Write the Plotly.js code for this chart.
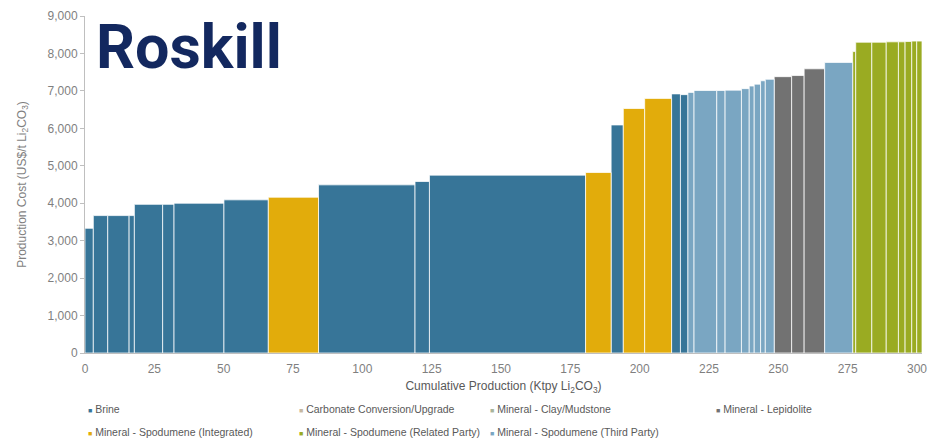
<!DOCTYPE html>
<html>
<head>
<meta charset="utf-8">
<script src="https://cdn.plot.ly/plotly-3.0.1.min.js"></script>
<style>
  html, body { margin: 0; padding: 0; background: #ffffff; }
  #chart { width: 942px; height: 443px; }
</style>
</head>
<body>
<div id="chart"></div>
<script>
// Lithium carbonate cost curve: one bar per operation, width = capacity, height = cost.
const capacity = [3.0, 5.2, 7.7, 1.9, 10.2, 4.1, 18.0, 16.0, 18.1, 34.8, 5.2, 56.3, 9.2, 4.4,
                  7.7, 9.7, 3.2, 2.7, 2.2, 8.2, 3.0, 5.9, 2.8, 1.8, 2.3, 1.7, 3.2, 6.3, 4.5,
                  7.4, 10.1, 1.1, 5.8, 5.2, 4.4, 2.4, 2.4, 1.8, 1.9];
const cost = [3330, 3670, 3670, 3670, 3970, 3970, 4000, 4090, 4160, 4490, 4580, 4750, 4820, 6090,
              6530, 6800, 6920, 6900, 6960, 7010, 7010, 7020, 7060, 7130, 7180, 7270, 7310, 7380, 7410,
              7590, 7760, 8050, 8300, 8300, 8310, 8310, 8320, 8330, 8330];
const supplyType = ['B', 'B', 'B', 'B', 'B', 'B', 'B', 'B', 'SI', 'B', 'B', 'B', 'SI', 'B',
                    'SI', 'SI', 'B', 'B', 'ST', 'ST', 'ST', 'ST', 'ST', 'ST', 'ST', 'ST', 'ST', 'L', 'L',
                    'L', 'ST', 'SR', 'SR', 'SR', 'SR', 'SR', 'SR', 'SR', 'SR'];

const typeCodes = ['B', 'CC', 'CM', 'L', 'SI', 'SR', 'ST'];
const typeNames = ['Brine', 'Carbonate Conversion/Upgrade', 'Mineral - Clay/Mudstone', 'Mineral - Lepidolite',
                   'Mineral - Spodumene (Integrated)', 'Mineral - Spodumene (Related Party)',
                   'Mineral - Spodumene (Third Party)'];
const typeColors = ['#377598', '#c7b8a0', '#a9b49a', '#727272', '#e2ac0b', '#9aab22', '#7aa6c2'];

const xTicks = [0, 25, 50, 75, 100, 125, 150, 175, 200, 225, 250, 275, 300];

// cumulative position of each operation along the x axis
const leftEdge = [];
let run = 0;
capacity.forEach(c => { leftEdge.push(run); run += c; });

const traces = typeCodes.map((code, k) => {
  const idx = supplyType.map((t, i) => t === code ? i : -1).filter(i => i >= 0);
  return {
    type: 'bar',
    name: typeNames[k],
    x: idx.map(i => leftEdge[i] + capacity[i] / 2),
    y: idx.map(i => cost[i]),
    width: idx.map(i => capacity[i]),
    marker: { color: typeColors[k], line: { color: 'rgba(255,255,255,0.75)', width: 1 } },
    hoverinfo: 'y'
  };
}).filter(t => t.x.length > 0);

// plot frame in pixels, used to place the hand-drawn legend and logo
const W = 942, H = 443, L = 85, R = 20, T = 16, B = 90;
const px = v => (v - L) / (W - L - R);
const py = v => (H - B - v) / (H - T - B);

const legendRows = [
  [[0, 86], [1, 297], [2, 488], [3, 714]],
  [[4, 86], [5, 297], [6, 488]]
];
const legendY = [409, 432];
const annotations = [];
legendRows.forEach((row, r) => {
  row.forEach(([k, x]) => {
    annotations.push({
      xref: 'paper', yref: 'paper', x: px(x), y: py(legendY[r]),
      xanchor: 'left', yanchor: 'middle', showarrow: false,
      text: '<span style="color:' + typeColors[k] + ';font-size:7px">&#9632;</span> ' + typeNames[k],
      font: { family: 'Liberation Sans, Arial, sans-serif', size: 10.5, color: '#595959' }
    });
  });
});
annotations.push({
  xref: 'paper', yref: 'paper', x: px(94), y: py(47),
  xanchor: 'left', yanchor: 'middle', showarrow: false,
  text: '<b>Roskill</b>',
  font: { family: 'Roboto, Liberation Sans, sans-serif', size: 61, color: '#13285f' }
});

const layout = {
  width: W, height: H,
  margin: { l: L, r: R, t: T, b: B },
  paper_bgcolor: '#ffffff', plot_bgcolor: '#ffffff',
  barmode: 'overlay',
  showlegend: false,
  font: { family: 'Liberation Sans, Arial, sans-serif', size: 12, color: '#7f7f7f' },
  xaxis: {
    range: [0, run], tickvals: xTicks, ticktext: xTicks.map(String),
    showline: true, linecolor: '#bfbfbf', linewidth: 1,
    ticks: 'outside', ticklen: 5, tickcolor: 'rgba(0,0,0,0)',
    showgrid: false, zeroline: false,
    tickfont: { size: 12, color: '#7f7f7f' },
    title: { text: 'Cumulative Production (Ktpy Li<sub>2</sub>CO<sub>3</sub>)', standoff: 6,
             font: { size: 12, color: '#595959' } }
  },
  yaxis: {
    range: [0, 9000], dtick: 1000, tickformat: ',d',
    showline: true, linecolor: '#bfbfbf', linewidth: 1,
    ticks: 'outside', ticklen: 4, tickcolor: '#bfbfbf',
    showgrid: false, zeroline: false,
    tickfont: { size: 12, color: '#7f7f7f' },
    title: { text: 'Production Cost (US$/t Li<sub>2</sub>CO<sub>3</sub>)', standoff: 18,
             font: { size: 12, color: '#7f7f7f' } }
  },
  annotations: annotations
};

Plotly.newPlot('chart', traces, layout, { displayModeBar: false, staticPlot: true });
</script>
</body>
</html>
